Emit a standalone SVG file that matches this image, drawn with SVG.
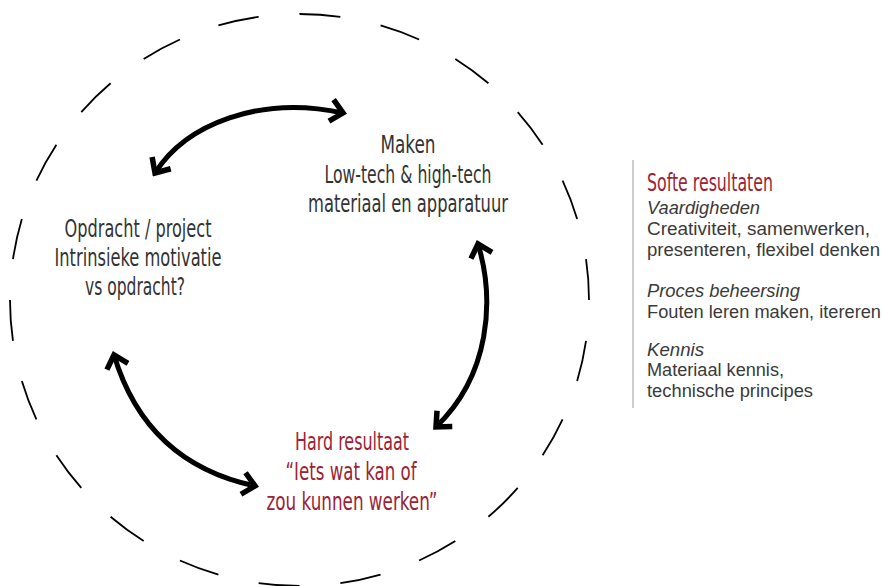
<svg xmlns="http://www.w3.org/2000/svg" width="883" height="586" viewBox="0 0 883 586">
<style>
.cond{font-family:"Liberation Sans Narrow","DejaVu Sans Condensed","Roboto Condensed","Liberation Sans",sans-serif;font-stretch:condensed;font-size:24px;text-anchor:middle}
.dark{fill:#333333}
.red{fill:#9b2335}
.body{font-family:"Liberation Sans",Arial,sans-serif;font-size:17.5px;fill:#3a3a3a}
.it{font-style:italic}
.arrow{fill:none;stroke:#000;stroke-width:5;stroke-linecap:butt;marker-start:url(#head);marker-end:url(#head)}
</style>
<defs>
<marker id="head" markerUnits="userSpaceOnUse" viewBox="-18 -15 22 30" refX="0" refY="0" markerWidth="22" markerHeight="30" orient="auto-start-reverse">
<path d="M-12,-11 L0,0 L-12,11" fill="none" stroke="#000" stroke-width="5.5" stroke-linejoin="miter" stroke-miterlimit="4"/>
</marker>
</defs>
<rect width="883" height="586" fill="#ffffff"/>
<g id="outer-circle">
<ellipse cx="299.5" cy="300" rx="289.5" ry="286" fill="none" stroke="#000" stroke-width="1.8" pathLength="1760" stroke-dasharray="40 40" stroke-dashoffset="40"/>
</g>
<g id="connectors">
<path class="arrow" d="M155,173 C186,124 260,95 343,113"/>
<path class="arrow" d="M478,244 C495,300 490,375 436,427"/>
<path class="arrow" d="M114,355 C135,425 180,470 255,486"/>
</g>
<g id="maken">
<text class="cond dark" x="408" y="153" textLength="55" lengthAdjust="spacingAndGlyphs">Maken</text>
<text class="cond dark" x="408" y="183" textLength="167" lengthAdjust="spacingAndGlyphs">Low-tech &amp; high-tech</text>
<text class="cond dark" x="408" y="212" textLength="200" lengthAdjust="spacingAndGlyphs">materiaal en apparatuur</text>
</g>
<g id="opdracht">
<text class="cond dark" x="138" y="237" textLength="147" lengthAdjust="spacingAndGlyphs">Opdracht / project</text>
<text class="cond dark" x="138" y="266" textLength="167" lengthAdjust="spacingAndGlyphs">Intrinsieke motivatie</text>
<text class="cond dark" x="135" y="295" textLength="100" lengthAdjust="spacingAndGlyphs">vs opdracht?</text>
</g>
<g id="hard-resultaat">
<text class="cond red" x="352" y="450" textLength="114" lengthAdjust="spacingAndGlyphs">Hard resultaat</text>
<text class="cond red" x="351" y="480" textLength="131" lengthAdjust="spacingAndGlyphs">“Iets wat kan of</text>
<text class="cond red" x="352" y="510" textLength="171" lengthAdjust="spacingAndGlyphs">zou kunnen werken”</text>
</g>
<g id="softe-resultaten">
<line x1="633" y1="160" x2="633" y2="408" stroke="#9a9a9a" stroke-width="1"/>
<text class="cond red" x="647" y="191" style="text-anchor:start;font-size:25px" textLength="126" lengthAdjust="spacingAndGlyphs">Softe resultaten</text>
<text class="body it" x="647" y="214" textLength="113" lengthAdjust="spacingAndGlyphs">Vaardigheden</text>
<text class="body" x="647" y="235" textLength="223" lengthAdjust="spacingAndGlyphs">Creativiteit, samenwerken,</text>
<text class="body" x="647" y="256" textLength="233" lengthAdjust="spacingAndGlyphs">presenteren, flexibel denken</text>
<text class="body it" x="647" y="297" textLength="153" lengthAdjust="spacingAndGlyphs">Proces beheersing</text>
<text class="body" x="647" y="318" textLength="234" lengthAdjust="spacingAndGlyphs">Fouten leren maken, itereren</text>
<text class="body it" x="647" y="356" textLength="57" lengthAdjust="spacingAndGlyphs">Kennis</text>
<text class="body" x="647" y="376" textLength="137" lengthAdjust="spacingAndGlyphs">Materiaal kennis,</text>
<text class="body" x="647" y="397" textLength="166" lengthAdjust="spacingAndGlyphs">technische principes</text>
</g>
</svg>
